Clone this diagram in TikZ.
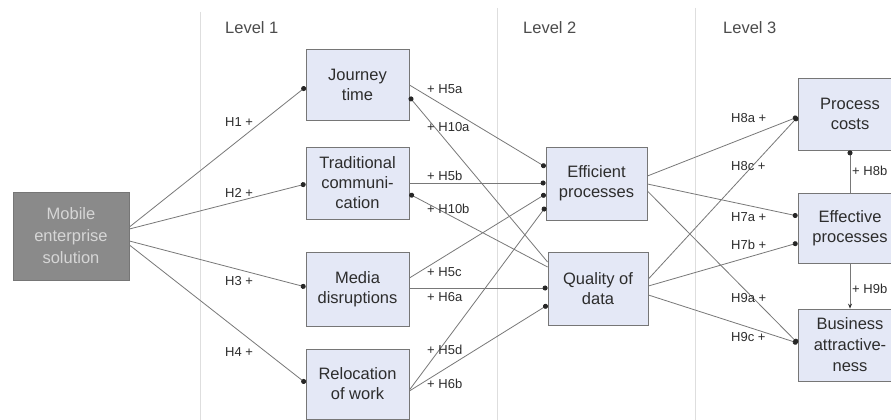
\documentclass[tikz,border=0pt]{standalone}
\usepackage{fontspec}
\setmainfont{Liberation Sans}
\usetikzlibrary{arrows.meta,calc}

\definecolor{boxfill}{RGB}{228,232,246}
\definecolor{boxline}{RGB}{118,118,118}
\definecolor{darkfill}{RGB}{138,138,138}
\definecolor{darktext}{RGB}{214,214,214}
\definecolor{linkcol}{RGB}{120,120,120}
\definecolor{dividercol}{RGB}{222,222,222}
\definecolor{txt}{RGB}{45,45,45}

\tikzset{
  box/.style={draw=boxline, line width=0.8pt, fill=boxfill, align=center,
    text=txt, font=\fontsize{16.5}{20}\selectfont, inner sep=0pt},
  startbox/.style={draw=boxline, line width=0.8pt, fill=darkfill, align=center,
    text=darktext, font=\fontsize{16.5}{22}\selectfont, inner sep=0pt,
    minimum width=116pt, minimum height=88pt},
  conn/.style={draw=linkcol, line width=0.8pt,
    -{Circle[length=5pt, color=black!85]}},
  connarrow/.style={draw=linkcol, line width=0.8pt,
    -{Stealth[length=5pt, width=4pt, color=black!80]}},
  lab/.style={text=txt, font=\fontsize{13}{15}\selectfont, inner sep=0pt, anchor=west},
  levellab/.style={text=txt!85, font=\fontsize{16.5}{20}\selectfont, inner sep=0pt, anchor=west},
  divider/.style={draw=dividercol, line width=1pt}
}

\begin{document}
\begin{tikzpicture}[x=1pt, y=-1pt]
\useasboundingbox (0,0) rectangle (891,420);
\clip (0,0) rectangle (891,420);
\fill[white] (0,0) rectangle (891,420);

% column dividers
\draw[divider] (200,12) -- (200,420);
\draw[divider] (497,8) -- (497,420);
\draw[divider] (695,8) -- (695,420);

% level headings
\node[levellab] (lv1) at (225,28) {Level 1};
\node[levellab] (lv2) at (523,28) {Level 2};
\node[levellab] (lv3) at (723,28) {Level 3};

% source
\node[startbox] (mob) at (71,236) {Mobile\\enterprise\\solution};

% level 1
\node[box, minimum width=103pt, minimum height=71pt] (jt) at (357.5,84.5) {Journey\\time};
\node[box, minimum width=103pt, minimum height=72pt] (tc) at (357.5,183) {Traditional\\communi-\\cation};
\node[box, minimum width=103pt, minimum height=74pt] (md) at (357.5,289) {Media\\disruptions};
\node[box, minimum width=103pt, minimum height=70pt] (rw) at (357.5,384) {Relocation\\of work};

% level 2
\node[box, minimum width=101pt, minimum height=73pt] (ep) at (596.5,183.5) {Efficient\\processes};
\node[box, minimum width=100pt, minimum height=73pt] (qd) at (598,288.5) {Quality of\\data};

% level 3
\node[box, minimum width=104pt, minimum height=72pt] (pc) at (850,114) {Process\\costs};
\node[box, minimum width=104pt, minimum height=70pt] (efp) at (850,228) {Effective\\processes};
\node[box, minimum width=104pt, minimum height=72pt, font=\fontsize{16.5}{21}\selectfont] (ba) at (850,345) {Business\\attractive-\\ness};

% source -> level 1
\draw[conn] (mob.east |- 0,227) -- (jt.west |- 0,87);
\draw[conn] (mob.east |- 0,229) -- (tc.west |- 0,184);
\draw[conn] (mob.east |- 0,241) -- (md.west |- 0,287);
\draw[conn] (mob.east |- 0,245) -- (rw.west |- 0,383);

% level 1 -> level 2
\draw[conn] (jt.east |- 0,85) -- (ep.west |- 0,167);
\draw[conn] (tc.east |- 0,183) -- (ep.west |- 0,183);
\draw[conn] (md.east |- 0,278) -- (ep.west |- 0,194);
\draw[conn] (rw.east |- 0,390) -- (ep.west |- 0,207);
\draw[conn] (md.east |- 0,288) -- (qd.west |- 0,288);
\draw[conn] (rw.east |- 0,391) -- (qd.west |- 0,305);
\draw[conn] (qd.west |- 0,262) -- (jt.east |- 0,97);
\draw[conn] (qd.west |- 0,267) -- (tc.east |- 0,194);

% level 2 -> level 3
\draw[conn] (ep.east |- 0,176) -- (pc.west |- 0,117);
\draw[conn] (ep.east |- 0,184) -- (efp.west |- 0,216);
\draw[conn] (ep.east |- 0,191) -- (ba.west |- 0,343);
\draw[conn] (qd.east |- 0,279) -- (pc.west |- 0,117);
\draw[conn] (qd.east |- 0,286) -- (efp.west |- 0,243);
\draw[conn] (qd.east |- 0,295) -- (ba.west |- 0,343);
\draw[conn] (efp.north) -- (pc.south);
\draw[connarrow] (efp.south) -- (ba.north);

% hypothesis labels
\node[lab] (h1) at (225,122) {H1 +};
\node[lab] (h2) at (225,193) {H2 +};
\node[lab] (h3) at (225,281) {H3 +};
\node[lab] (h4) at (225,352) {H4 +};

\node[lab] (h5a) at (427,89) {+ H5a};
\node[lab] (h10a) at (427,127) {+ H10a};
\node[lab] (h5b) at (427,176) {+ H5b};
\node[lab] (h10b) at (427,209) {+ H10b};
\node[lab] (h5c) at (427,272) {+ H5c};
\node[lab] (h6a) at (427,297) {+ H6a};
\node[lab] (h5d) at (427,350) {+ H5d};
\node[lab] (h6b) at (427,384) {+ H6b};

\node[lab] (h8a) at (731,118) {H8a +};
\node[lab] (h8c) at (731,166) {H8c +};
\node[lab] (h7a) at (731,217) {H7a +};
\node[lab] (h7b) at (731,245) {H7b +};
\node[lab] (h9a) at (731,298) {H9a +};
\node[lab] (h9c) at (731,337) {H9c +};

\node[lab] (h8b) at (852,171) {+ H8b};
\node[lab] (h9b) at (852,289) {+ H9b};
\end{tikzpicture}
\end{document}
